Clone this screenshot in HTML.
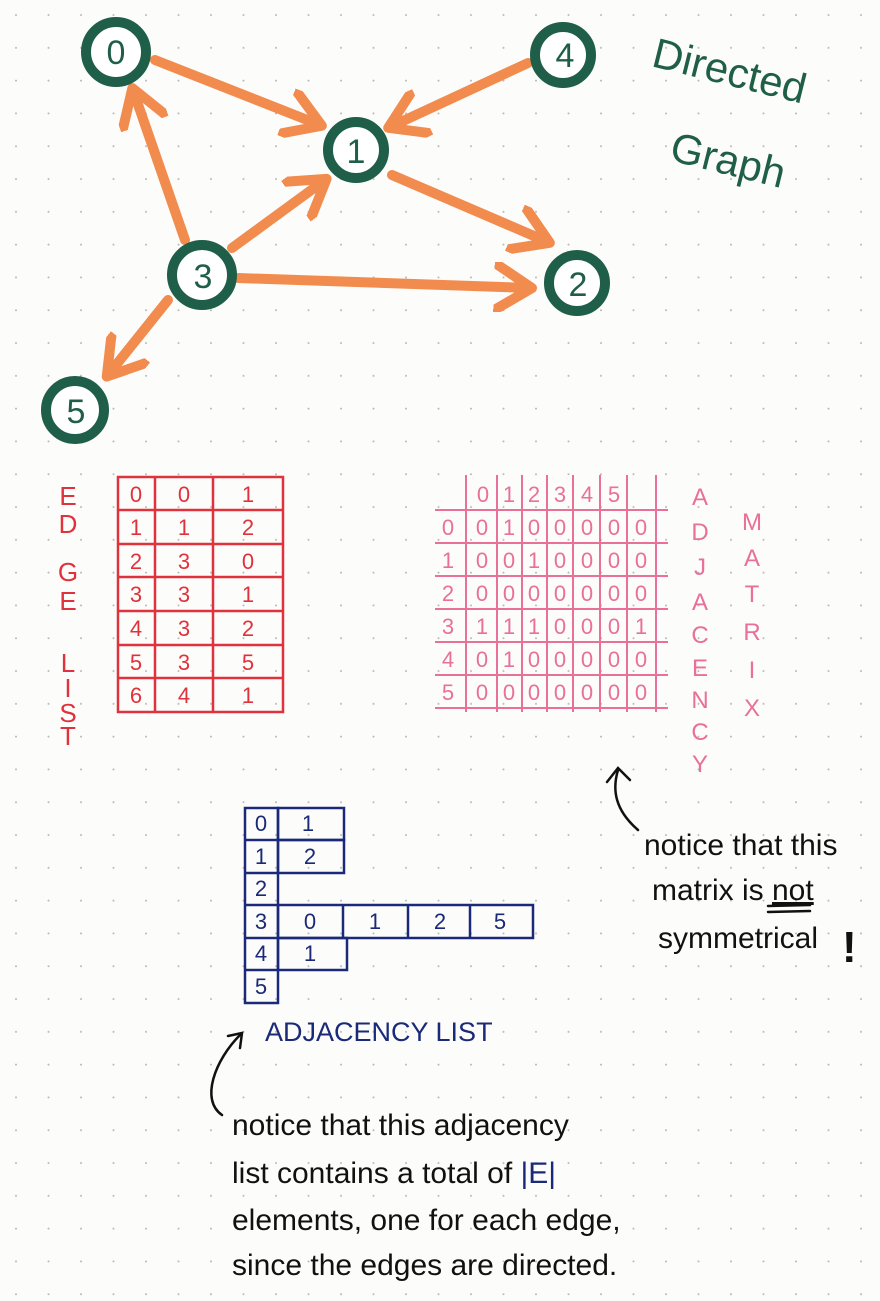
<!DOCTYPE html>
<html><head><meta charset="utf-8"><style>
html,body{margin:0;padding:0;background:#fcfcfa;}
svg{display:block}
text{font-family:"Liberation Sans",sans-serif;}
</style></head><body>
<svg width="880" height="1301" viewBox="0 0 880 1301" xmlns="http://www.w3.org/2000/svg">
<defs>
<pattern id="dots" x="0" y="0" width="32.5" height="32.8" patternUnits="userSpaceOnUse">
<circle cx="16" cy="15" r="1" fill="#b8b8b8"/>
</pattern>
<marker id="ah" markerWidth="5" markerHeight="5" refX="3.6" refY="2.5" orient="auto" markerUnits="strokeWidth">
<path d="M0.3,0.3 L3.8,2.5 L0.3,4.7" fill="none" stroke="#f28b4e" stroke-width="1" stroke-linecap="round" stroke-linejoin="round"/>
</marker>
</defs>
<rect width="880" height="1301" fill="url(#dots)"/>

<g stroke="#f28b4e" stroke-width="10" stroke-linecap="round" fill="none" marker-end="url(#ah)">
<line x1="155" y1="60" x2="320" y2="125"/>
<line x1="528" y1="63" x2="390" y2="127"/>
<line x1="392" y1="175" x2="548" y2="242"/>
<line x1="232" y1="248" x2="325" y2="180"/>
<line x1="238" y1="278" x2="530" y2="288"/>
<line x1="185" y1="240" x2="133" y2="90"/>
<line x1="168" y1="300" x2="108" y2="375"/>
</g>

<g stroke="#1f5e48" stroke-width="10" fill="#fff">
<circle cx="116" cy="52" r="30"/>
<circle cx="563" cy="55" r="28"/>
<circle cx="356" cy="150" r="28"/>
<circle cx="202" cy="275" r="30"/>
<circle cx="577" cy="283" r="28"/>
<circle cx="75" cy="410" r="29"/>
</g>
<g fill="#1f5e48" font-size="34" text-anchor="middle">
<text x="116" y="64">0</text>
<text x="565" y="67">4</text>
<text x="356" y="163">1</text>
<text x="203" y="288">3</text>
<text x="578" y="296">2</text>
<text x="76" y="423">5</text>
</g>
<g fill="#1f5e48" font-size="42" transform="rotate(14 660 60)">
<text x="652" y="68">Directed</text>
<text x="692" y="155">Graph</text>
</g>

<g stroke="#e0323c" stroke-width="2.5" fill="none">
<rect x="118" y="477" width="165" height="235"/>
<line x1="155" y1="477" x2="155" y2="712"/>
<line x1="213" y1="477" x2="213" y2="712"/>
<line x1="118" y1="510" x2="283" y2="510"/>
<line x1="118" y1="544" x2="283" y2="544"/>
<line x1="118" y1="577" x2="283" y2="577"/>
<line x1="118" y1="611" x2="283" y2="611"/>
<line x1="118" y1="645" x2="283" y2="645"/>
<line x1="118" y1="678" x2="283" y2="678"/>
</g>
<g fill="#e0323c" font-size="22" text-anchor="middle">
<text x="136" y="502">0</text><text x="184" y="502">0</text><text x="248" y="502">1</text>
<text x="136" y="535">1</text><text x="184" y="535">1</text><text x="248" y="535">2</text>
<text x="136" y="569">2</text><text x="184" y="569">3</text><text x="248" y="569">0</text>
<text x="136" y="602">3</text><text x="184" y="602">3</text><text x="248" y="602">1</text>
<text x="136" y="636">4</text><text x="184" y="636">3</text><text x="248" y="636">2</text>
<text x="136" y="670">5</text><text x="184" y="670">3</text><text x="248" y="670">5</text>
<text x="136" y="703">6</text><text x="184" y="703">4</text><text x="248" y="703">1</text>
</g>
<g fill="#e0323c" font-size="26" text-anchor="middle">
<text x="68" y="505">E</text><text x="68" y="533">D</text><text x="68" y="581">G</text><text x="68" y="610">E</text>
<text x="68" y="672">L</text><text x="68" y="697">I</text><text x="68" y="722">S</text><text x="68" y="745">T</text>
</g>

<g stroke="#e8709a" stroke-width="2" fill="none">
<line x1="466" y1="475" x2="466" y2="712"/>
<line x1="497" y1="475" x2="497" y2="712"/>
<line x1="522" y1="475" x2="522" y2="712"/>
<line x1="547" y1="475" x2="547" y2="712"/>
<line x1="573" y1="475" x2="573" y2="712"/>
<line x1="600" y1="475" x2="600" y2="712"/>
<line x1="627" y1="475" x2="627" y2="712"/>
<line x1="656" y1="475" x2="656" y2="712"/>
<line x1="435" y1="510" x2="668" y2="510"/>
<line x1="435" y1="543" x2="668" y2="543"/>
<line x1="435" y1="576" x2="668" y2="576"/>
<line x1="435" y1="609" x2="668" y2="609"/>
<line x1="435" y1="642" x2="668" y2="642"/>
<line x1="435" y1="675" x2="668" y2="675"/>
<line x1="435" y1="708" x2="668" y2="708"/>
</g>
<g fill="#e8709a" font-size="22" text-anchor="middle">
<text x="483" y="502">0</text><text x="509" y="502">1</text><text x="534" y="502">2</text><text x="560" y="502">3</text><text x="587" y="502">4</text><text x="614" y="502">5</text>
<text x="448" y="535">0</text><text x="482" y="535">0</text><text x="509" y="535">1</text><text x="534" y="535">0</text><text x="560" y="535">0</text><text x="587" y="535">0</text><text x="614" y="535">0</text><text x="641" y="535">0</text>
<text x="448" y="568">1</text><text x="482" y="568">0</text><text x="509" y="568">0</text><text x="534" y="568">1</text><text x="560" y="568">0</text><text x="587" y="568">0</text><text x="614" y="568">0</text><text x="641" y="568">0</text>
<text x="448" y="601">2</text><text x="482" y="601">0</text><text x="509" y="601">0</text><text x="534" y="601">0</text><text x="560" y="601">0</text><text x="587" y="601">0</text><text x="614" y="601">0</text><text x="641" y="601">0</text>
<text x="448" y="634">3</text><text x="482" y="634">1</text><text x="509" y="634">1</text><text x="534" y="634">1</text><text x="560" y="634">0</text><text x="587" y="634">0</text><text x="614" y="634">0</text><text x="641" y="634">1</text>
<text x="448" y="667">4</text><text x="482" y="667">0</text><text x="509" y="667">1</text><text x="534" y="667">0</text><text x="560" y="667">0</text><text x="587" y="667">0</text><text x="614" y="667">0</text><text x="641" y="667">0</text>
<text x="448" y="700">5</text><text x="482" y="700">0</text><text x="509" y="700">0</text><text x="534" y="700">0</text><text x="560" y="700">0</text><text x="587" y="700">0</text><text x="614" y="700">0</text><text x="641" y="700">0</text>
</g>
<g fill="#e8709a" font-size="24" text-anchor="middle">
<text x="700" y="505">A</text><text x="700" y="540">D</text><text x="700" y="575">J</text><text x="700" y="610">A</text><text x="700" y="643">C</text><text x="700" y="676">E</text><text x="700" y="708">N</text><text x="700" y="740">C</text><text x="700" y="772">Y</text>
<text x="752" y="530">M</text><text x="752" y="566">A</text><text x="752" y="602">T</text><text x="752" y="640">R</text><text x="752" y="678">I</text><text x="752" y="716">X</text>
</g>

<g stroke="#1a2a78" stroke-width="2.5" fill="none">
<rect x="245" y="808" width="33" height="195"/>
<line x1="245" y1="840" x2="278" y2="840"/>
<line x1="245" y1="873" x2="278" y2="873"/>
<line x1="245" y1="905" x2="278" y2="905"/>
<line x1="245" y1="938" x2="278" y2="938"/>
<line x1="245" y1="970" x2="278" y2="970"/>
<rect x="278" y="808" width="66" height="32"/>
<rect x="278" y="840" width="66" height="33"/>
<rect x="278" y="905" width="255" height="33"/>
<line x1="343" y1="905" x2="343" y2="938"/>
<line x1="408" y1="905" x2="408" y2="938"/>
<line x1="470" y1="905" x2="470" y2="938"/>
<rect x="278" y="938" width="69" height="32"/>
</g>
<g fill="#1a2a78" font-size="22" text-anchor="middle">
<text x="261" y="831">0</text><text x="261" y="864">1</text><text x="261" y="896">2</text><text x="261" y="929">3</text><text x="261" y="961">4</text><text x="261" y="994">5</text>
<text x="308" y="831">1</text><text x="310" y="864">2</text>
<text x="310" y="929">0</text><text x="375" y="929">1</text><text x="440" y="929">2</text><text x="500" y="929">5</text>
<text x="310" y="961">1</text>
</g>
<text x="265" y="1041" fill="#1a2a78" font-size="27">ADJACENCY LIST</text>

<g stroke="#111" stroke-width="2.5" fill="none" stroke-linecap="round">
<path d="M638 830 C615 810 612 790 618 770"/>
<path d="M607 782 L618 768 L630 780"/>
<path d="M222 1115 C200 1100 215 1060 240 1035"/>
<path d="M228 1036 L242 1033 L240 1048"/>
<line x1="768" y1="906" x2="810" y2="905"/>
<line x1="768" y1="912" x2="810" y2="911"/>
</g>
<g fill="#111" font-size="30">
<text x="644" y="855">notice that this</text>
<text x="652" y="900">matrix is <tspan text-decoration="underline">not</tspan></text>
<text x="658" y="948">symmetrical</text>
<text x="842" y="962" font-size="44" font-weight="bold">!</text>
<text x="232" y="1135">notice that this adjacency</text>
<text x="232" y="1183">list contains a total of <tspan fill="#1a2a78">|E|</tspan></text>
<text x="232" y="1230">elements, one for each edge,</text>
<text x="232" y="1275">since the edges are directed.</text>
</g>
</svg>
</body></html>
